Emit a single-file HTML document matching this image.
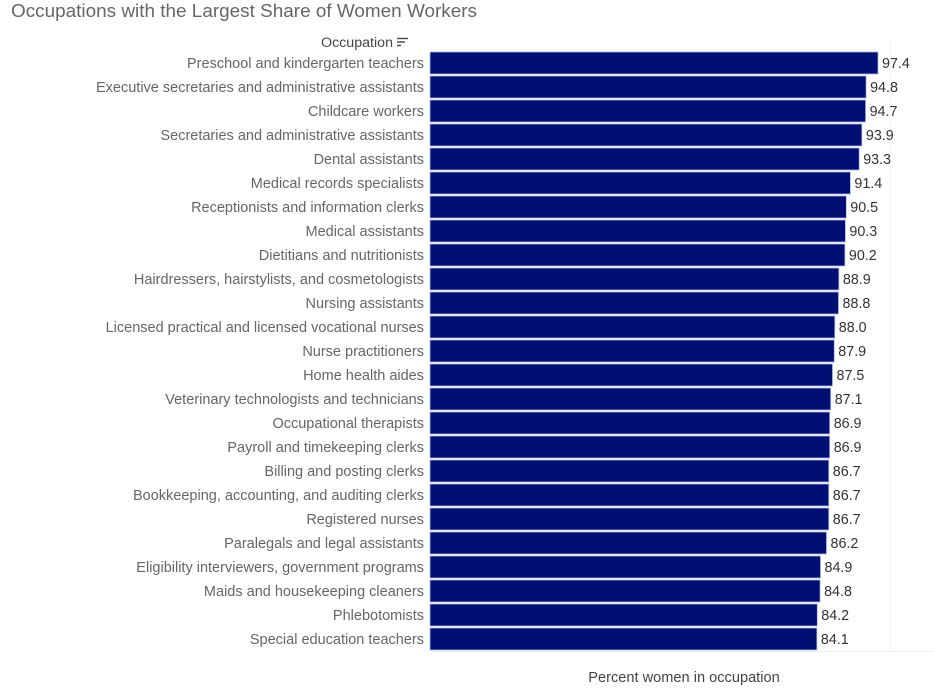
<!DOCTYPE html>
<html>
<head>
<meta charset="utf-8">
<style>
  html,body{margin:0;padding:0;background:#fff;}
  svg{display:block;}
  text{font-family:"Liberation Sans","DejaVu Sans",sans-serif;}
</style>
</head>
<body>
<svg width="934" height="691" viewBox="0 0 934 691" xmlns="http://www.w3.org/2000/svg">
  <rect width="934" height="691" fill="#fff"/>
  <text x="11" y="17" font-size="18.2" fill="#666" textLength="466" lengthAdjust="spacingAndGlyphs">Occupations with the Largest Share of Women Workers</text>

  <text x="321" y="47" font-size="13.5" fill="#444" textLength="72" lengthAdjust="spacingAndGlyphs">Occupation</text>
  <g stroke="#444" stroke-width="1.4">
    <line x1="397" y1="38.5" x2="408" y2="38.5"/>
    <line x1="397" y1="42" x2="405" y2="42"/>
    <line x1="397" y1="45.5" x2="401" y2="45.5"/>
  </g>

  <line x1="890" y1="40" x2="890" y2="651" stroke="#f2f2f2" stroke-width="1"/>
  <line x1="430" y1="651.5" x2="934" y2="651.5" stroke="#efefef" stroke-width="1"/>

  <g fill="#010f72" stroke="#aeb8e6" stroke-width="0.8">
    <rect x="430" y="52" width="448.0" height="22"/>
    <rect x="430" y="76" width="436.1" height="22"/>
    <rect x="430" y="100" width="435.6" height="22"/>
    <rect x="430" y="124" width="431.9" height="22"/>
    <rect x="430" y="148" width="429.2" height="22"/>
    <rect x="430" y="172" width="420.4" height="22"/>
    <rect x="430" y="196" width="416.3" height="22"/>
    <rect x="430" y="220" width="415.4" height="22"/>
    <rect x="430" y="244" width="414.9" height="22"/>
    <rect x="430" y="268" width="408.9" height="22"/>
    <rect x="430" y="292" width="408.5" height="22"/>
    <rect x="430" y="316" width="404.8" height="22"/>
    <rect x="430" y="340" width="404.3" height="22"/>
    <rect x="430" y="364" width="402.5" height="22"/>
    <rect x="430" y="388" width="400.7" height="22"/>
    <rect x="430" y="412" width="399.7" height="22"/>
    <rect x="430" y="436" width="399.7" height="22"/>
    <rect x="430" y="460" width="398.8" height="22"/>
    <rect x="430" y="484" width="398.8" height="22"/>
    <rect x="430" y="508" width="398.8" height="22"/>
    <rect x="430" y="532" width="396.5" height="22"/>
    <rect x="430" y="556" width="390.5" height="22"/>
    <rect x="430" y="580" width="390.1" height="22"/>
    <rect x="430" y="604" width="387.3" height="22"/>
    <rect x="430" y="628" width="386.9" height="22"/>
  </g>

  <g font-size="14.5" fill="#666" text-anchor="end">
    <text x="424" y="68">Preschool and kindergarten teachers</text>
    <text x="424" y="92">Executive secretaries and administrative assistants</text>
    <text x="424" y="116">Childcare workers</text>
    <text x="424" y="140">Secretaries and administrative assistants</text>
    <text x="424" y="164">Dental assistants</text>
    <text x="424" y="188">Medical records specialists</text>
    <text x="424" y="212">Receptionists and information clerks</text>
    <text x="424" y="236">Medical assistants</text>
    <text x="424" y="260">Dietitians and nutritionists</text>
    <text x="424" y="284">Hairdressers, hairstylists, and cosmetologists</text>
    <text x="424" y="308">Nursing assistants</text>
    <text x="424" y="332">Licensed practical and licensed vocational nurses</text>
    <text x="424" y="356">Nurse practitioners</text>
    <text x="424" y="380">Home health aides</text>
    <text x="424" y="404">Veterinary technologists and technicians</text>
    <text x="424" y="428">Occupational therapists</text>
    <text x="424" y="452">Payroll and timekeeping clerks</text>
    <text x="424" y="476">Billing and posting clerks</text>
    <text x="424" y="500">Bookkeeping, accounting, and auditing clerks</text>
    <text x="424" y="524">Registered nurses</text>
    <text x="424" y="548">Paralegals and legal assistants</text>
    <text x="424" y="572">Eligibility interviewers, government programs</text>
    <text x="424" y="596">Maids and housekeeping cleaners</text>
    <text x="424" y="620">Phlebotomists</text>
    <text x="424" y="644">Special education teachers</text>
  </g>

  <g font-size="14.3" fill="#333">
    <text x="882.0" y="68">97.4</text>
    <text x="870.1" y="92">94.8</text>
    <text x="869.6" y="116">94.7</text>
    <text x="865.9" y="140">93.9</text>
    <text x="863.2" y="164">93.3</text>
    <text x="854.4" y="188">91.4</text>
    <text x="850.3" y="212">90.5</text>
    <text x="849.4" y="236">90.3</text>
    <text x="848.9" y="260">90.2</text>
    <text x="842.9" y="284">88.9</text>
    <text x="842.5" y="308">88.8</text>
    <text x="838.8" y="332">88.0</text>
    <text x="838.3" y="356">87.9</text>
    <text x="836.5" y="380">87.5</text>
    <text x="834.7" y="404">87.1</text>
    <text x="833.7" y="428">86.9</text>
    <text x="833.7" y="452">86.9</text>
    <text x="832.8" y="476">86.7</text>
    <text x="832.8" y="500">86.7</text>
    <text x="832.8" y="524">86.7</text>
    <text x="830.5" y="548">86.2</text>
    <text x="824.5" y="572">84.9</text>
    <text x="824.1" y="596">84.8</text>
    <text x="821.3" y="620">84.2</text>
    <text x="820.9" y="644">84.1</text>
  </g>

  <text x="684" y="682" font-size="14.6" fill="#444" text-anchor="middle">Percent women in occupation</text>
</svg>
</body>
</html>
